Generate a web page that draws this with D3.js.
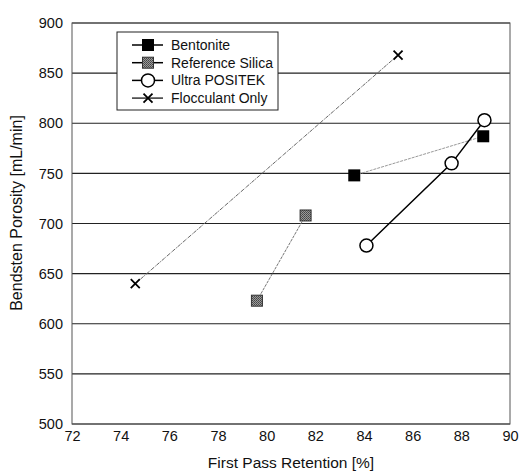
<!DOCTYPE html>
<html>
<head>
<meta charset="utf-8">
<script src="https://cdn.jsdelivr.net/npm/d3@7"></script>
<style>
  html, body { margin: 0; padding: 0; background: #fff; }
  svg text { font-family: "Liberation Sans", Arial, sans-serif; fill: #111; }
</style>
</head>
<body>
<svg id="chart" width="530" height="473"></svg>
<script>
// Data
const seriesNames = ['Bentonite', 'Reference Silica', 'Ultra POSITEK', 'Flocculant Only'];
const bentonite = [[83.6, 748], [88.9, 787]];
const referenceSilica = [[79.6, 623], [81.6, 708]];
const ultraPositek = [[84.1, 678], [87.6, 760], [88.95, 803]];
const flocculantOnly = [[74.6, 640], [85.4, 868]];
const xTicks = [72, 74, 76, 78, 80, 82, 84, 86, 88, 90];
const yTicks = [500, 550, 600, 650, 700, 750, 800, 850, 900];

const svg = d3.select('#chart');
const margin = { left: 72, right: 20, top: 23, bottom: 49 };
const width = 530 - margin.left - margin.right;
const height = 473 - margin.top - margin.bottom;

const x = d3.scaleLinear().domain([72, 90]).range([margin.left, margin.left + width]);
const y = d3.scaleLinear().domain([500, 900]).range([margin.top + height, margin.top]);

// stipple pattern for the reference silica marker
const defs = svg.append('defs');
const pat = defs.append('pattern')
  .attr('id', 'stipple').attr('width', 2).attr('height', 2)
  .attr('patternUnits', 'userSpaceOnUse');
pat.append('rect').attr('width', 2).attr('height', 2).attr('fill', '#9a9a9a');
pat.append('rect').attr('width', 1).attr('height', 1).attr('fill', '#444');
pat.append('rect').attr('x', 1).attr('y', 1).attr('width', 1).attr('height', 1).attr('fill', '#555');

// horizontal gridlines
svg.append('g')
  .selectAll('line')
  .data(yTicks)
  .enter().append('line')
  .attr('x1', x(72)).attr('x2', x(90))
  .attr('y1', d => y(d)).attr('y2', d => y(d))
  .attr('stroke', '#222').attr('stroke-width', 1.2);

// plot frame
svg.append('rect')
  .attr('x', x(72)).attr('y', y(900))
  .attr('width', x(90) - x(72)).attr('height', y(500) - y(900))
  .attr('fill', 'none').attr('stroke', '#555').attr('stroke-width', 1);

// axes (labels only)
const xAxis = svg.append('g')
  .attr('transform', `translate(0,${y(500)})`)
  .call(d3.axisBottom(x).tickValues(xTicks).tickSize(0).tickPadding(7));
xAxis.select('.domain').remove();
xAxis.selectAll('text').style('font-size', '14.5px');

const yAxis = svg.append('g')
  .attr('transform', `translate(${x(72)},0)`)
  .call(d3.axisLeft(y).tickValues(yTicks).tickSize(0).tickPadding(9));
yAxis.select('.domain').remove();
yAxis.selectAll('text').style('font-size', '14.5px');

// axis titles
svg.append('text')
  .attr('x', 291).attr('y', 468)
  .attr('text-anchor', 'middle').style('font-size', '15.5px')
  .text('First Pass Retention [%]');
svg.append('text')
  .attr('transform', 'translate(22,213) rotate(-90)')
  .attr('text-anchor', 'middle').style('font-size', '16px')
  .text('Bendsten Porosity [mL/min]');

const line = d3.line().x(d => x(d[0])).y(d => y(d[1]));

const styles = {
  'Bentonite': { data: bentonite, stroke: '#999', width: 1, dash: '3,1' },
  'Reference Silica': { data: referenceSilica, stroke: '#777', width: 1, dash: '3,1' },
  'Ultra POSITEK': { data: ultraPositek, stroke: '#000', width: 1.5, dash: null },
  'Flocculant Only': { data: flocculantOnly, stroke: '#666', width: 1, dash: '4,1,1,1' },
};

function drawMarker(g, name, cx, cy) {
  if (name === 'Bentonite') {
    g.append('rect').attr('x', cx - 6).attr('y', cy - 6).attr('width', 12).attr('height', 12)
      .attr('fill', '#000');
  } else if (name === 'Reference Silica') {
    g.append('rect').attr('x', cx - 5.5).attr('y', cy - 5.5).attr('width', 11).attr('height', 11)
      .attr('fill', 'url(#stipple)').attr('stroke', '#333').attr('stroke-width', 1);
  } else if (name === 'Ultra POSITEK') {
    g.append('circle').attr('cx', cx).attr('cy', cy).attr('r', 6.5)
      .attr('fill', '#fff').attr('stroke', '#000').attr('stroke-width', 1.5);
  } else {
    g.append('path').attr('d', `M${cx - 4.5},${cy - 4.5}L${cx + 4.5},${cy + 4.5}M${cx - 4.5},${cy + 4.5}L${cx + 4.5},${cy - 4.5}`)
      .attr('stroke', '#000').attr('stroke-width', 1.8);
  }
}

// lines then markers
const plot = svg.append('g');
seriesNames.forEach(name => {
  const s = styles[name];
  plot.append('path')
    .attr('d', line(s.data))
    .attr('fill', 'none')
    .attr('stroke', s.stroke)
    .attr('stroke-width', s.width)
    .attr('stroke-dasharray', s.dash);
});
seriesNames.forEach(name => {
  styles[name].data.forEach(d => drawMarker(plot, name, x(d[0]), y(d[1])));
});

// legend
const legend = svg.append('g');
legend.append('rect')
  .attr('x', 117).attr('y', 32).attr('width', 161).attr('height', 78)
  .attr('fill', '#fff').attr('stroke', '#222').attr('stroke-width', 1);
seriesNames.forEach((name, i) => {
  const ly = 45 + i * 17.7;
  legend.append('line')
    .attr('x1', 132).attr('x2', 163).attr('y1', ly).attr('y2', ly)
    .attr('stroke', name === 'Flocculant Only' ? '#333' : '#000')
    .attr('stroke-width', 1.5);
  drawMarker(legend, name, 148, ly);
  legend.append('text')
    .attr('x', 171).attr('y', ly + 5)
    .style('font-size', '14px')
    .text(name);
});
</script>
</body>
</html>
